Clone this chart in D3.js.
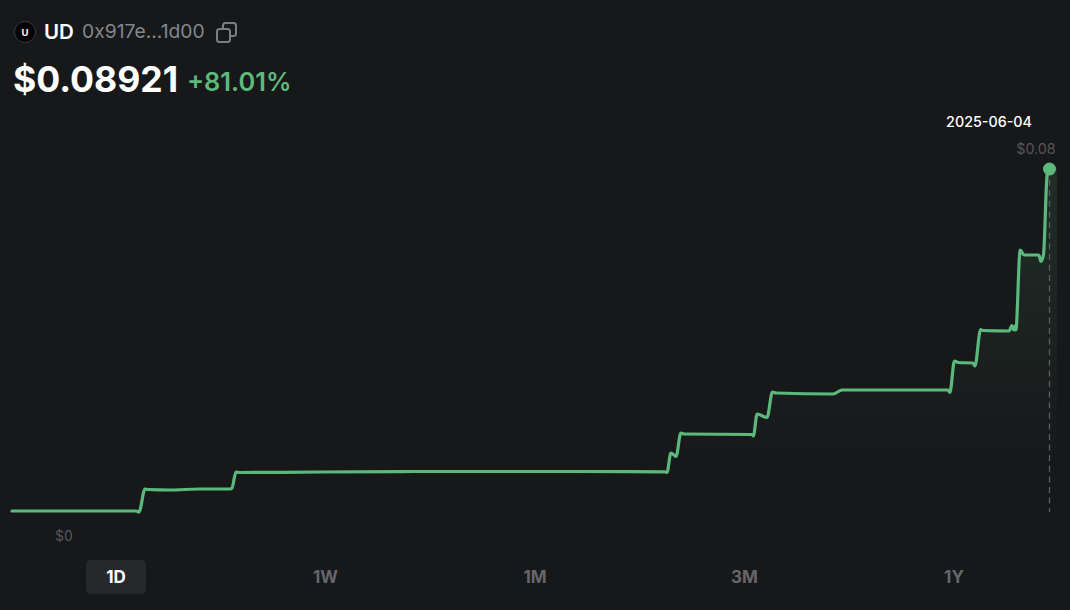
<!DOCTYPE html>
<html>
<head>
<meta charset="utf-8">
<script src="https://d3js.org/d3.v7.min.js"></script>
<style>
    html, body { margin: 0; padding: 0; background: #17181a; }
    #chart { width: 1070px; height: 610px; }
    text { font-family: Inter, "Noto Sans", sans-serif; }
</style>
</head>
<body>
<div id="chart"></div>
<script>
// days since the start of the range
const days = [0, 43.6, 44.66, 46.77, 47.82, 55.56, 66.1, 76.66, 77.36, 78.77, 80.17, 108.3, 141.7, 198, 229.6, 230.3, 231.7, 233.5, 235.2, 236.3, 260.2, 260.7, 262, 265.5, 267.4, 268.7, 288.7, 291.9, 329.1, 329.8, 331.4, 332.7, 337.9, 338.6, 340.6, 341.4, 350.6, 351.6, 352.3, 352.7, 353, 354.5, 355.9, 361.1, 361.8, 362.7, 364, 365];
const prices = [0, 0, -0.00026, 0.00574, 0.00561, 0.00548, 0.00574, 0.00574, 0.006, 0.01017, 0.01004, 0.01017, 0.0103, 0.0103, 0.01022, 0.01004, 0.01513, 0.01422, 0.02035, 0.02009, 0.01996, 0.01956, 0.0253, 0.02439, 0.03104, 0.03078, 0.03052, 0.03156, 0.03156, 0.03091, 0.03913, 0.03874, 0.0386, 0.03782, 0.04734, 0.04708, 0.04695, 0.04839, 0.04721, 0.04826, 0.04721, 0.06808, 0.06678, 0.06678, 0.06508, 0.06678, 0.08765, 0.08921];
const endDate = "2025-06-04";
const token = "UD";
const address = "0x917e...1d00";
const price = "$0.08921";
const change = "+81.01%";
const yTicks = ["$0", "$0.08"];
const ranges = ["1D", "1W", "1M", "3M", "1Y"];
const activeRange = "1D";

class priceChart {
    constructor(_parentElement) {
        this.parentElement = _parentElement;
        this.data = days.map((d, i) => ({ day: d, price: prices[i] }));
        this.initVis();
    }

    initVis() {
        let vis = this;

        vis.width = 1070;
        vis.height = 610;
        vis.green = "#5cb97c";

        vis.svg = d3.select("#" + vis.parentElement).append("svg")
            .attr("width", vis.width)
            .attr("height", vis.height)
            .style("display", "block");

        // scales
        vis.x = d3.scaleLinear().domain([0, 365]).range([12, 1050]);
        vis.y = d3.scaleLinear().domain([0, 0.08921]).range([511, 169]);

        vis.drawHeader();
        vis.drawArea();
        vis.drawLine();
        vis.drawFooter();
    }

    drawHeader() {
        let vis = this;

        // token icon
        vis.svg.append("circle").attr("cx", 25).attr("cy", 32).attr("r", 10.5)
            .attr("fill", "#000").attr("stroke", "#3a3b3f").attr("stroke-width", 1);
        vis.svg.append("text").attr("x", 25).attr("y", 35.5)
            .attr("text-anchor", "middle").attr("font-size", 9.5).attr("font-weight", 700)
            .attr("fill", "#fff").text("U");

        vis.svg.append("text").attr("x", 44).attr("y", 39)
            .attr("font-size", 20.5).attr("font-weight", 600).attr("fill", "#fff").text(token);
        vis.svg.append("text").attr("x", 82).attr("y", 38)
            .attr("font-size", 19.3).attr("fill", "#85868a").text(address);

        // copy icon
        vis.svg.append("rect").attr("x", 223).attr("y", 23).attr("width", 13).attr("height", 13).attr("rx", 2.5)
            .attr("fill", "none").attr("stroke", "#7c7d81").attr("stroke-width", 2);
        vis.svg.append("rect").attr("x", 217).attr("y", 29).attr("width", 13).attr("height", 13).attr("rx", 2.5)
            .attr("fill", "#17181a").attr("stroke", "#7c7d81").attr("stroke-width", 2);

        vis.svg.append("text").attr("x", 13).attr("y", 92)
            .attr("font-size", 35.6).attr("font-weight", 700).attr("fill", "#fff").text(price);
        vis.svg.append("text").attr("x", 187).attr("y", 91)
            .attr("font-size", 25.4).attr("font-weight", 600).attr("fill", vis.green).text(change);
    }

    drawArea() {
        let vis = this;

        let last = vis.data[vis.data.length - 1];
        let base = 458;

        // fill fades from the top of the chart down to the base
        let grad = vis.svg.append("defs").append("linearGradient").attr("id", "areaFade")
            .attr("gradientUnits", "userSpaceOnUse")
            .attr("x1", 0).attr("x2", 0)
            .attr("y1", vis.y(last.price)).attr("y2", base);
        grad.append("stop").attr("offset", "0%").attr("stop-color", vis.green).attr("stop-opacity", 0.14);
        grad.append("stop").attr("offset", "100%").attr("stop-color", vis.green).attr("stop-opacity", 0);

        let area = d3.area()
            .x(d => vis.x(d.day))
            .y0(base)
            .y1(d => vis.y(d.price))
            .curve(d3.curveMonotoneX);

        vis.svg.append("path")
            .datum(vis.data.filter(d => vis.y(d.price) < base))
            .attr("d", area)
            .attr("fill", "url(#areaFade)");

        // the fill carries on a little past the last point
        vis.svg.append("rect")
            .attr("x", vis.x(last.day)).attr("y", vis.y(last.price))
            .attr("width", 7).attr("height", base - vis.y(last.price))
            .attr("fill", "url(#areaFade)");

        // marker at the last point
        vis.svg.append("line")
            .attr("x1", vis.x(last.day) - 0.5).attr("x2", vis.x(last.day) - 0.5)
            .attr("y1", vis.y(last.price)).attr("y2", vis.y(0) + 1)
            .attr("stroke", "#5c5d61").attr("stroke-width", 1.3).attr("stroke-dasharray", "6,4.6");
    }

    drawLine() {
        let vis = this;

        let line = d3.line()
            .x(d => vis.x(d.day))
            .y(d => vis.y(d.price))
            .curve(d3.curveMonotoneX);

        vis.svg.append("path")
            .datum(vis.data)
            .attr("d", line)
            .attr("fill", "none")
            .attr("stroke", vis.green)
            .attr("stroke-width", 3.2)
            .attr("stroke-linejoin", "round")
            .attr("stroke-linecap", "round");

        let last = vis.data[vis.data.length - 1];
        vis.svg.append("circle")
            .attr("cx", vis.x(last.day) - 0.5).attr("cy", vis.y(last.price)).attr("r", 6.5)
            .attr("fill", vis.green);

        vis.svg.append("text").attr("x", 989).attr("y", 127)
            .attr("text-anchor", "middle").attr("font-size", 14.3).attr("font-weight", 500)
            .attr("fill", "#fff").text(endDate);
    }

    drawFooter() {
        let vis = this;

        // y labels
        vis.svg.append("text").attr("x", 64).attr("y", 541)
            .attr("text-anchor", "middle").attr("font-size", 14).attr("fill", "#55565a").text(yTicks[0]);
        vis.svg.append("text").attr("x", 1036).attr("y", 154)
            .attr("text-anchor", "middle").attr("font-size", 14.3).attr("fill", "#55565a").text(yTicks[1]);

        // range selector
        let rangeX = d3.scalePoint().domain(ranges).range([116, 954]);

        vis.svg.append("rect")
            .attr("x", rangeX(activeRange) - 30).attr("y", 560)
            .attr("width", 60).attr("height", 34).attr("rx", 5)
            .attr("fill", "#27282c");

        vis.svg.selectAll(".range").data(ranges).enter().append("text")
            .attr("class", "range")
            .attr("x", d => rangeX(d))
            .attr("y", 583)
            .attr("text-anchor", "middle")
            .attr("font-size", 17)
            .attr("font-weight", 700)
            .attr("fill", d => d === activeRange ? "#fff" : "#66676b")
            .text(d => d);
    }
}

new priceChart("chart");
</script>
</body>
</html>
